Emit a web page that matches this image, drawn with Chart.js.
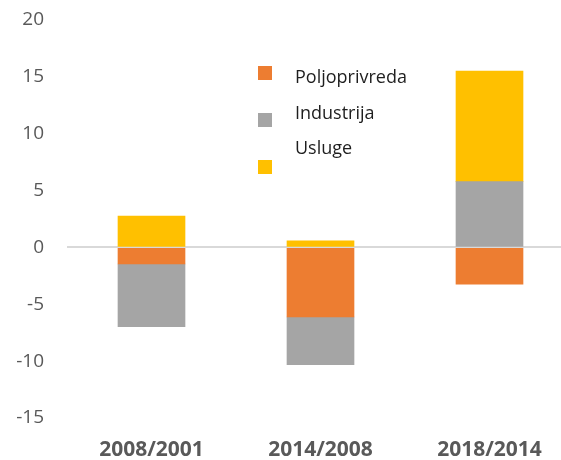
<!DOCTYPE html>
<html>
<head>
<meta charset="utf-8">
<script src="https://cdn.jsdelivr.net/npm/chart.js@4"></script>
<style>
  html, body { margin: 0; padding: 0; background: #fff; overflow: hidden; }
  #wrap { width: 574px; height: 460px; }
</style>
</head>
<body>
<div id="wrap"><canvas id="myChart"></canvas></div>
<script>
const categories = ["2008/2001", "2014/2008", "2018/2014"];
const seriesNames = ["Poljoprivreda", "Industrija", "Usluge"];
const poljoprivreda = [-1.46, -6.12, -3.24];
const industrija = [-5.51, -4.18, 5.78];
const usluge = [2.76, 0.59, 9.72];
const colors = ['#ED7D31', '#A5A5A5', '#FFC000'];

const ctx = document.getElementById('myChart');

// legend sits inside the plot, drawn by hand
const insideLegend = {
    id: 'insideLegend',
    afterDraw(chart) {
        const c = chart.ctx;
        const boxes = [66, 113, 160];
        const baselines = [83, 119, 154];
        c.save();
        c.font = '18px "Open Sans"';
        c.textBaseline = 'alphabetic';
        c.textAlign = 'left';
        chart.data.datasets.forEach((ds, i) => {
            c.fillStyle = ds.backgroundColor;
            c.fillRect(258, boxes[i], 14, 14);
            c.fillStyle = '#1e1e1e';
            c.fillText(ds.label, 295, baselines[i]);
        });
        c.restore();
    }
};

new Chart(ctx, {
    type: 'bar',
    data: {
        labels: categories,
        datasets: [
            { label: seriesNames[0], data: poljoprivreda, backgroundColor: colors[0] },
            { label: seriesNames[1], data: industrija, backgroundColor: colors[1] },
            { label: seriesNames[2], data: usluge, backgroundColor: colors[2] }
        ]
    },
    options: {
        responsive: true,
        maintainAspectRatio: false,
        animation: false,
        layout: { padding: { top: 20, left: 0, right: 0, bottom: 0 } },
        datasets: { bar: { barThickness: 67, borderWidth: 0 } },
        plugins: {
            legend: { display: false },
            tooltip: { enabled: false }
        },
        scales: {
            x: {
                stacked: true,
                grid: { display: false, drawTicks: false },
                border: { display: false },
                ticks: {
                    padding: 19,
                    color: '#595959',
                    font: { family: 'Open Sans', size: 21, weight: 'bold' }
                },
                afterFit(scale) { scale.height = 42; }
            },
            y: {
                stacked: true,
                min: -15,
                max: 20,
                z: 1,
                grid: {
                    drawTicks: false,
                    color: c => c.tick && c.tick.value === 0 ? '#d9d9d9' : 'rgba(0,0,0,0)',
                    lineWidth: 2
                },
                border: { display: false },
                ticks: {
                    stepSize: 5,
                    padding: 23,
                    color: '#595959',
                    font: { family: 'Open Sans', size: 19 }
                },
                afterFit(scale) {
                    scale.width = 67;
                    scale.paddingTop = 0;
                    scale.paddingBottom = 0;
                }
            }
        }
    },
    plugins: [insideLegend]
});
</script>
</body>
</html>
